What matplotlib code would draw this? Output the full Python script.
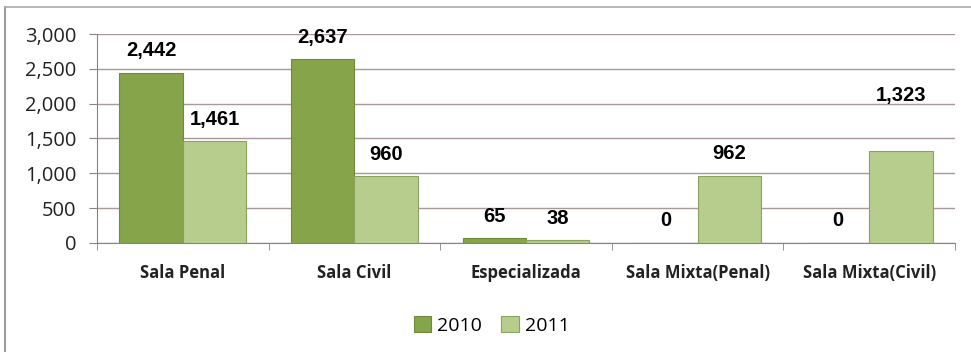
import matplotlib.pyplot as plt
import numpy as np
from matplotlib.lines import Line2D

categories = ['Sala Penal', 'Sala Civil', 'Especializada', 'Sala Mixta(Penal)', 'Sala Mixta(Civil)']
values_2010 = [2442, 2637, 65, 0, 0]
values_2011 = [1461, 960, 38, 962, 1323]
series_names = ['2010', '2011']
yticks = [0, 500, 1000, 1500, 2000, 2500, 3000]

fig = plt.figure(figsize=(9.71, 3.52), dpi=100)
ax = fig.add_axes([0.0999, 0.3097, 0.8836, 0.5937])

# chart frame: only top and left edges show in the picture
fig.lines.append(Line2D([0.0055, 0.0055], [0.0, 0.98], transform=fig.transFigure,
                        color='#a09a98', linewidth=1.5))
fig.lines.append(Line2D([0.0055, 1.0], [0.98, 0.98], transform=fig.transFigure,
                        color='#b0aaa8', linewidth=1.2))

x = np.arange(len(categories))
w = 0.37
b1 = ax.bar(x - w / 2, values_2010, w, color='#86a44a', edgecolor='#6f8a3a', linewidth=0.8,
            label=series_names[0], zorder=3)
b2 = ax.bar(x + w / 2, values_2011, w, color='#b7cd8e', edgecolor='#8aa35c', linewidth=0.8,
            label=series_names[1], zorder=3)

# the 1,323 label sits higher than the others in the original
extra_offset = {(1, 4): 24}

for si, (bars, vals) in enumerate(((b1, values_2010), (b2, values_2011))):
    for ci, (r, v) in enumerate(zip(bars, vals)):
        dy = 9 + extra_offset.get((si, ci), 0)
        ax.annotate('{:,}'.format(v), (r.get_x() + r.get_width() / 2, v),
                    xytext=(0, dy), textcoords='offset points', ha='center', va='bottom',
                    fontsize=14.5, fontweight='bold', family='Liberation Sans', color='black')

ax.set_xlim(-0.5, len(categories) - 0.5)
ax.set_ylim(0, 3000)
ax.set_yticks(yticks)
ax.set_yticklabels(['{:,}'.format(t) for t in yticks], fontsize=14.5, family='Open Sans',
                   color='#222222')
ax.tick_params(axis='y', length=6, color='#8c8080', pad=9)
ax.yaxis.grid(True, color='#a89898', linewidth=1.0, zorder=0)

ax.set_xticks(x)
ax.set_xticklabels(categories, fontsize=12, fontweight='bold', family='Open Sans', color='#222222')
ax.set_xticks(np.arange(len(categories) + 1) - 0.5, minor=True)
ax.tick_params(axis='x', which='major', length=0, pad=15)
ax.tick_params(axis='x', which='minor', length=5, color='#8c8080')

for s in ['top', 'right']:
    ax.spines[s].set_visible(False)
ax.spines['left'].set_color('#8c8080')
ax.spines['bottom'].set_color('#8c8080')

ax.legend(loc='upper center', bbox_to_anchor=(0.46, -0.265), ncol=2, frameon=False,
          prop={'family': 'Open Sans', 'size': 14}, handlelength=0.9, handleheight=0.9,
          handletextpad=0.3, columnspacing=1.0)

fig.savefig('out.png', dpi=100)
